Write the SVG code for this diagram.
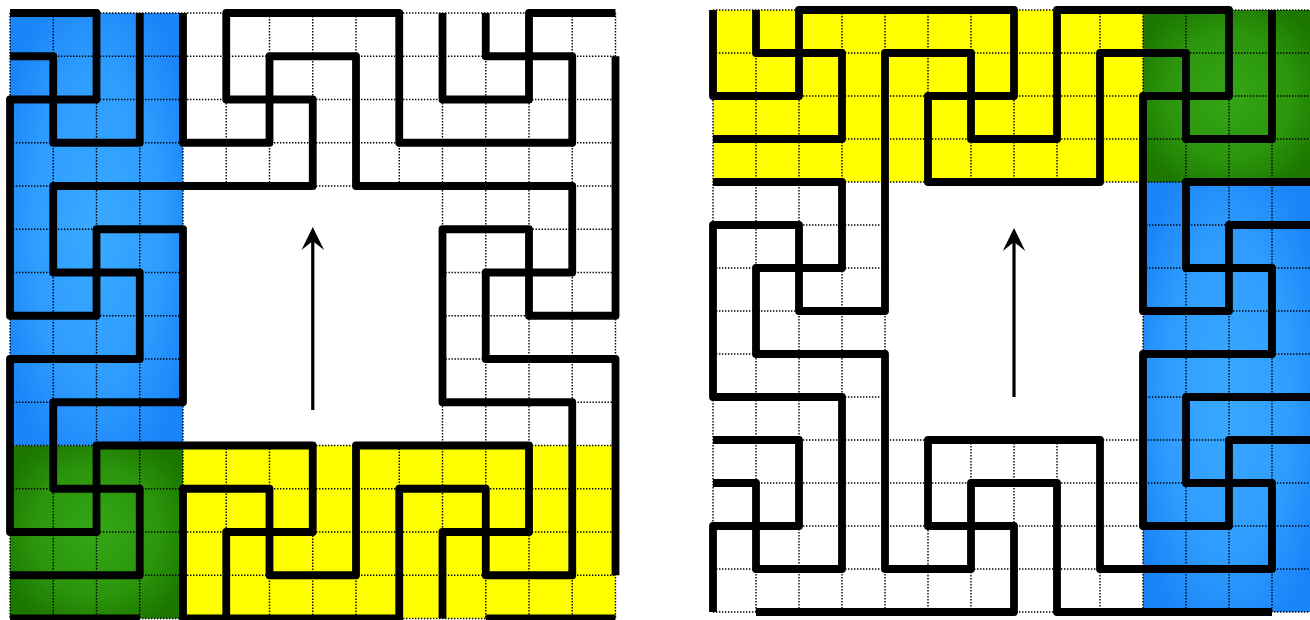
<svg xmlns="http://www.w3.org/2000/svg" width="1310" height="620" viewBox="0 0 1310 620">
<defs>
<radialGradient id="gBlue" cx="0.5" cy="0.5" r="0.6">
<stop offset="0" stop-color="#39a9ff"/>
<stop offset="0.6" stop-color="#2f9dff"/>
<stop offset="1" stop-color="#1a84f8"/>
</radialGradient>
<radialGradient id="gGreen" cx="0.5" cy="0.5" r="0.6">
<stop offset="0" stop-color="#34a616"/>
<stop offset="0.6" stop-color="#2b960c"/>
<stop offset="1" stop-color="#1c7600"/>
</radialGradient>
<style>
.grid{fill:none;stroke:#000;stroke-width:1.4;stroke-dasharray:1.4 1.6}
.curve{fill:none;stroke:#000;stroke-width:7.8;stroke-linejoin:round;stroke-linecap:butt}
.arrow{fill:none;stroke:#000;stroke-width:3.2}
.head{fill:#000}
</style>
</defs>
<rect width="1310" height="620" fill="#fff"/>

<g id="left-panel">
<rect x="10" y="13" width="173" height="432.5" fill="url(#gBlue)"/>
<rect x="10" y="445.5" width="173" height="173" fill="url(#gGreen)"/>
<rect x="183" y="445.5" width="432.5" height="173" fill="#ffff00"/>
<path class="grid" d="M10,13H615.5M10,56.25H615.5M10,99.5H615.5M10,142.75H615.5M10,186H615.5
M10,229.25H183M442.5,229.25H615.5M10,272.5H183M442.5,272.5H615.5M10,315.75H183M442.5,315.75H615.5M10,359H183M442.5,359H615.5M10,402.25H183M442.5,402.25H615.5
M10,445.5H615.5M10,488.75H615.5M10,532H615.5M10,575.25H615.5M10,618.5H615.5
M10,13V618.5M53.25,13V618.5M96.5,13V618.5M139.75,13V618.5M183,13V618.5
M226.25,13V186M226.25,445.5V618.5M269.5,13V186M269.5,445.5V618.5M312.75,13V186M312.75,445.5V618.5M356,13V186M356,445.5V618.5M399.25,13V186M399.25,445.5V618.5
M442.5,13V618.5M485.75,13V618.5M529,13V618.5M572.25,13V618.5M615.5,13V618.5"/>
<g id="left-curves">
<path class="curve" d="M10,13H96.5V99.5H10V315.75H96.5V229.25H183V402.25H53.25V488.75H139.75V575.25H10"/>
<path class="curve" d="M10,56.25H53.25V142.75H139.75V13"/>
<path class="curve" d="M183,13V142.75H269.5V56.25H356V186H572.25V272.5H485.75V359H615.5V575.25"/>
<path class="curve" d="M442.5,618.5V532H529V445.5H356V575.25H269.5V488.75H183V618.5H226.25V532H312.75V445.5H96.5V532H10V359H139.75V272.5H53.25V186H312.75V99.5H226.25V13H399.25V142.75H572.25V56.25H485.75V13"/>
<path class="curve" d="M442.5,13V99.5H529V13H615.5"/>
<path class="curve" d="M615.5,56.25V315.75H529V229.25H442.5V402.25H572.25V575.25H485.75V488.75H399.25V618.5H226.25"/>
<path class="curve" d="M10,618.5H139.75"/>
<path class="curve" d="M485.75,618.5H615.5"/>
</g>
<g id="left-arrow">
<line class="arrow" x1="312.75" y1="410" x2="312.75" y2="236"/>
<path class="head" d="M312.75,227L324,250L312.75,241L301.5,250Z"/>
</g>
</g>

<g id="right-panel">
<rect x="713" y="10" width="430" height="172" fill="#ffff00"/>
<rect x="1143" y="10" width="172" height="172" fill="url(#gGreen)"/>
<rect x="1143" y="182" width="172" height="430" fill="url(#gBlue)"/>
<path class="grid" d="M713,10H1315M713,53H1315M713,96H1315M713,139H1315M713,182H1315
M713,225H885M1143,225H1315M713,268H885M1143,268H1315M713,311H885M1143,311H1315M713,354H885M1143,354H1315M713,397H885M1143,397H1315
M713,440H1315M713,483H1315M713,526H1315M713,569H1315M713,612H1315
M713,10V612M756,10V612M799,10V612M842,10V612M885,10V612
M928,10V182M928,440V612M971,10V182M971,440V612M1014,10V182M1014,440V612M1057,10V182M1057,440V612M1100,10V182M1100,440V612
M1143,10V612M1186,10V612M1229,10V612M1272,10V612"/>
<g id="right-curves">
<path class="curve" d="M713,10V96H799V10H1014V96H928V182H1100V53H1186V139H1272V10"/>
<path class="curve" d="M756,10V53H842V139H713"/>
<path class="curve" d="M713,483H756V569H842V397H713V225H799V311H885V53H971V139H1057V10H1229V96H1143V311H1229V225H1315"/>
<path class="curve" d="M713,182H842V268H756V354H885V569H971V483H1057V612H1272"/>
<path class="curve" d="M713,440H799V526H713V612"/>
<path class="curve" d="M756,612H1014V526H928V440H1100V569H1272V483H1186V397H1315"/>
<path class="curve" d="M1315,182H1186V268H1272V354H1143V526H1229V440H1315"/>
</g>
<g id="right-arrow">
<line class="arrow" x1="1014" y1="397" x2="1014" y2="237"/>
<path class="head" d="M1014,228L1025.25,251L1014,242L1002.75,251Z"/>
</g>
</g>
</svg>
